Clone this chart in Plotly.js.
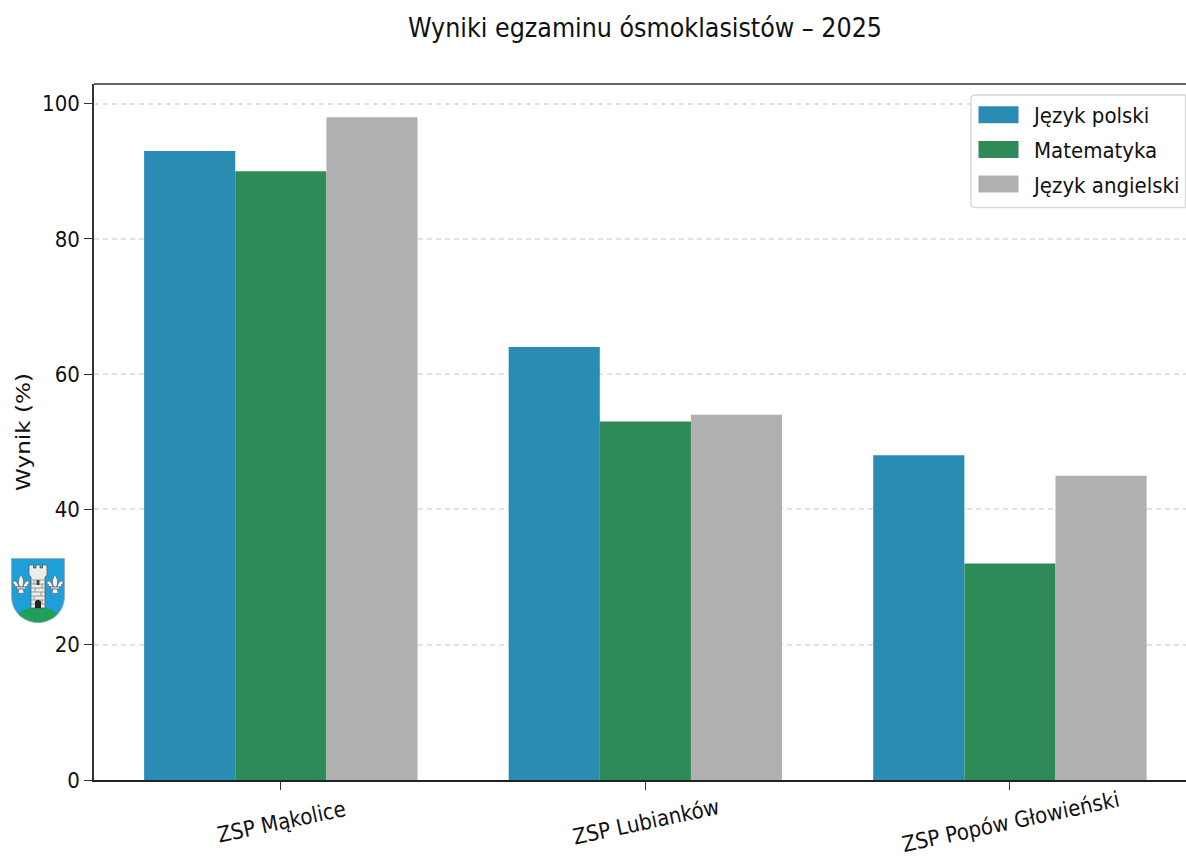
<!DOCTYPE html>
<html><head><meta charset="utf-8">
<script src="https://cdn.plot.ly/plotly-3.0.1.min.js"></script>
<style>html,body{margin:0;padding:0;background:#fff;overflow:hidden}</style>
</head><body><div id="chart" style="width:1186px;height:861px"></div>
<script>
const schools = ["ZSP Mąkolice", "ZSP Lubianków", "ZSP Popów Głowieński"];
const polski = [93, 64, 48];
const matematyka = [90, 53, 32];
const angielski = [98, 54, 45];
const seriesNames = ["Język polski", "Matematyka", "Język angielski"];
const seriesColors = ["#2b8cb3", "#2e8b57", "#b0b0b0"];
const yTicks = [0, 20, 40, 60, 80, 100];
const FONT = '"DejaVu Sans Condensed","DejaVu Sans",sans-serif';
const INK = "#111111";

const fleur = dx => `<g transform="translate(${dx} 0)" fill="#f6f6f6" stroke="#5a6470" stroke-width="0.7">
<path d="M0 17C-3 21 -3 25 -1.500 29H1.500C3 25 3 21 0 17Z"/>
<path d="M-2 29C-3 26 -4.500 23 -6.500 23C-8.500 23 -8.500 26 -6.500 26.500C-7 28 -5 29.500 -2 29Z"/>
<path d="M2 29C3 26 4.500 23 6.500 23C8.500 23 8.500 26 6.500 26.500C7 28 5 29.500 2 29Z"/>
<rect x="-4.500" y="29" width="9" height="2"/>
<path d="M-2 31H2L3.500 36C2 35 1 34.500 0 36C-1 34.500 -2 35 -3.500 36Z"/></g>`;
const crest = `<svg xmlns="http://www.w3.org/2000/svg" viewBox="0 0 54 65">
<defs><clipPath id="s"><path d="M0.500 0.500H53.500V38C53.500 54 41 64.500 27 64.500C13 64.500 0.500 54 0.500 38Z"/></clipPath></defs>
<path d="M0.500 0.500H53.500V38C53.500 54 41 64.500 27 64.500C13 64.500 0.500 54 0.500 38Z" fill="#1f9fd8"/>
<ellipse cx="27" cy="62" rx="22" ry="13" fill="#1f9f5c" clip-path="url(#s)"/>
<path d="M0.500 0.500H53.500V38C53.500 54 41 64.500 27 64.500C13 64.500 0.500 54 0.500 38Z" fill="none" stroke="#9aa7ad" stroke-width="0.8"/>
<path d="M18 7H22.500V10H25V7H29V10H31.500V7H36V17L34 19V50H20V19L18 17Z" fill="#ececE8" stroke="#555" stroke-width="0.7"/>
<path d="M20 22H34M20 26H34M20 30H34M20 34H34M20 38H34M20 42H34M20 46H34M23 22V26M31 26V30M24 30V34M30 34V38M23 38V42M31 42V46" stroke="#888" stroke-width="0.8" fill="none"/>
<path d="M24 50V43.500Q27 40 30 43.500V50Z" fill="#222"/><rect x="25.500" y="22" width="3" height="5" fill="#444"/>
${fleur(10)}${fleur(44)}
</svg>`;

const W = 1186, H = 861, L = 94, T = 84, B = 81;
const pw = W - L, ph = H - T - B;
const px = v => (v - L) / pw;
const py = v => 1 - (v - T) / ph;

const frame = `M ${px(975)} ${py(95)} H ${px(1185.500)} V ${py(207.500)} H ${px(975)} Q ${px(971)} ${py(207.500)} ${px(971)} ${py(203.500)} V ${py(99)} Q ${px(971)} ${py(95)} ${px(975)} ${py(95)} Z`;

const traces = [polski, matematyka, angielski].map((vals, i) => ({
  type: "bar", name: seriesNames[i], x: schools, y: vals, legendgroup: seriesNames[i],
  marker: {color: seriesColors[i], line: {width: 0}}, hoverinfo: "x+y+name"
}));

const layout = {
  width: W, height: H, paper_bgcolor: "#fff", plot_bgcolor: "#fff",
  margin: {l: L, r: 0, t: T, b: B, pad: 0},
  font: {family: FONT, size: 22, color: INK},
  title: {text: "Wyniki egzaminu ósmoklasistów – 2025", font: {family: FONT, size: 26.500, color: INK},
          x: 645 / W, xanchor: "center", xref: "container", y: 1 - 28/H, yanchor: "middle"},
  barmode: "group", bargap: 0.25, bargroupgap: 0,
  showlegend: true,
  legend: {x: px(900), y: py(96), xanchor: "left", yanchor: "top", bgcolor: "rgba(0,0,0,0)", borderwidth: 0,
           font: {family: FONT, size: 22, color: INK}, itemwidth: 50, entrywidth: 130, entrywidthmode: "pixels",
           traceorder: "grouped", tracegroupgap: 3, itemclick: false, itemdoubleclick: false},
  xaxis: {type: "category", categoryorder: "array", categoryarray: schools, range: [-0.5125, 2.483],
          ticks: "outside", ticklen: 8, tickwidth: 1.300, tickcolor: "#333", tickangle: -12, ticklabelstandoff: 13,
          showline: true, linecolor: "#222", linewidth: 2, showgrid: false, zeroline: false,
          tickfont: {family: FONT, size: 22, color: INK}},
  yaxis: {range: [0, 102.9], tickmode: "array", tickvals: yTicks, ticktext: yTicks.map(String),
          ticks: "outside", ticklen: 8, tickwidth: 1.300, tickcolor: "#333",
          showline: true, linecolor: "#333", linewidth: 1.500, mirror: false, zeroline: false,
          showgrid: true, gridcolor: "#e2e2e2", griddash: "5px,4px", gridwidth: 1.500,
          tickfont: {family: FONT, size: 22, color: INK},
          title: {text: "Wynik (%)", font: {family: '"DejaVu Sans",sans-serif', size: 20, color: INK}, standoff: 6}},
  shapes: [
    {type: "line", xref: "paper", yref: "paper", x0: 0, x1: 1, y0: 1, y1: 1, line: {color: "#333", width: 1.500}, layer: "above"},
    {type: "path", xref: "paper", yref: "paper", path: frame, fillcolor: "rgba(255,255,255,0.85)", line: {color: "#d8d8d8", width: 1.500}, layer: "above"}
  ],
  images: [{source: "data:image/svg+xml;base64," + btoa(crest), xref: "paper", yref: "paper",
            x: px(11), y: py(558), sizex: 54/pw, sizey: 65/ph, xanchor: "left", yanchor: "top", sizing: "stretch", layer: "above"}]
};

function polish(gd) {
  gd.querySelectorAll(".legendpoints path").forEach(p => {
    p.setAttribute("d", "M14.500,8.500H-25.500V-8.500H14.500Z");
    p.removeAttribute("clip-path");
  });
  const lg = gd.querySelector(".legend");
  if (lg) lg.setAttribute("transform", "translate(974,94)");
  gd.querySelectorAll(".xtick text").forEach(t => t.setAttribute("text-anchor", "middle"));
  const yt = gd.querySelector(".ytitle");
  if (yt) { yt.setAttribute("textLength", "118"); yt.setAttribute("lengthAdjust", "spacingAndGlyphs"); }
}
Plotly.newPlot("chart", traces, layout, {displayModeBar: false}).then(gd => {
  polish(gd);
  gd.on("plotly_afterplot", () => polish(gd));
  [50, 200, 500].forEach(ms => setTimeout(() => polish(gd), ms));
});
</script></body></html>
